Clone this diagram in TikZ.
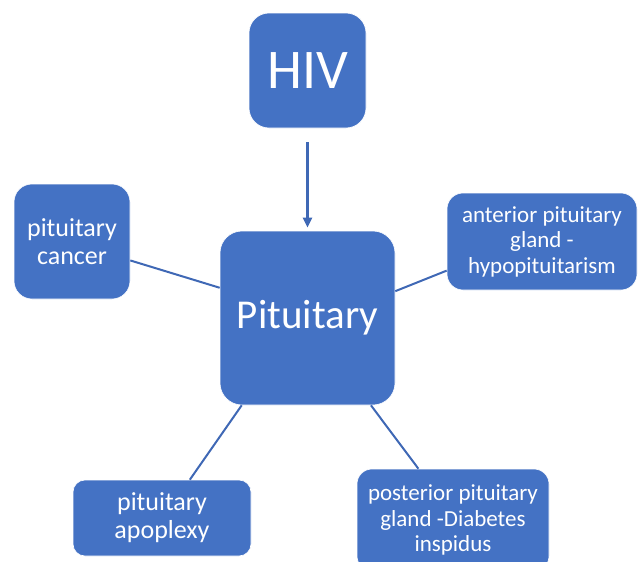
\documentclass[tikz,border=0pt]{standalone}
\usepackage{fontspec}
\setmainfont{Carlito}
\usepackage{xcolor}
\usetikzlibrary{arrows.meta}
\definecolor{pitblue}{HTML}{4472C4}
\definecolor{pitline}{HTML}{3F68B5}
\tikzset{
    box/.style={rectangle, fill=pitblue, draw=white, line width=0.6pt, text=white, align=center, inner sep=0pt}, % every coloured box
    link/.style={draw=pitline, line width=2pt}, % plain connectors
    small/.style={font=\fontsize{26}{28}\selectfont},
    smaller/.style={font=\fontsize{23}{25.5}\selectfont},
}
\tikzstyle{arrow} = [draw=pitline, line width=2.4pt, -{Triangle[length=10pt,width=9pt]}]

\begin{document}
\begin{tikzpicture}[x=1pt,y=-1pt]
    \useasboundingbox (0,0) rectangle (638,562);
    \clip (0,0) rectangle (638,562);
    % boxes
    \node[box, minimum width=117pt, minimum height=115pt, rounded corners=20pt, font=\fontsize{56}{60}\selectfont] (hiv) at (307.5,70.5) {HIV};
    \node[box, minimum width=175pt, minimum height=174pt, rounded corners=22pt, font=\fontsize{41}{44}\selectfont] (pit) at (307.5,318) {Pituitary};
    \node[box, small, minimum width=116pt, minimum height=115pt, rounded corners=18pt] (cancer) at (72,241.5) {pituitary\\cancer};
    \node[box, smaller, minimum width=190pt, minimum height=97pt, rounded corners=16pt] (anterior) at (542,241.5) {anterior pituitary\\gland -\\hypopituitarism};
    \node[box, small, minimum width=178pt, minimum height=76pt, rounded corners=12pt] (apoplexy) at (162,518) {pituitary\\apoplexy};
    \node[box, smaller, minimum width=192pt, minimum height=102pt, rounded corners=15pt] (posterior) at (453,520) {posterior pituitary\\gland -Diabetes\\inspidus};
    % connectors
    \draw[arrow, shorten <=14pt, shorten >=3pt] (hiv) -- (pit);
    \draw[link] (cancer.-18.6) -- (pit.161.9);
    \draw[link] (pit.17.9) -- (anterior.197.6);
    \draw[link] (pit.233.6) -- (apoplexy.54.4);
    \draw[link] (pit.-54.1) -- (posterior.124.9);
\end{tikzpicture}
\end{document}
